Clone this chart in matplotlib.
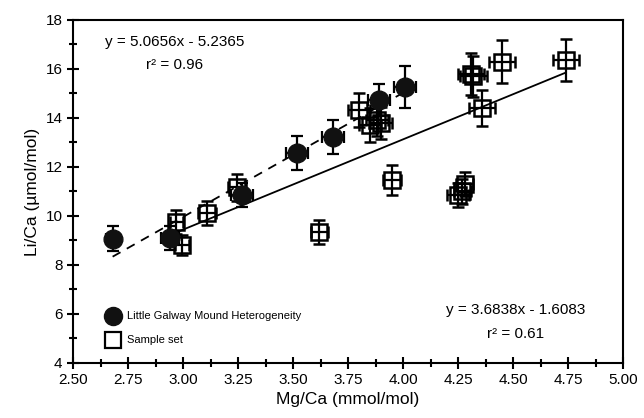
import matplotlib
matplotlib.use("Agg")
import matplotlib.pyplot as plt
import numpy as np
from matplotlib.ticker import MultipleLocator, FormatStrFormatter

plt.rcParams['font.family'] = ['Liberation Sans', 'DejaVu Sans']

# Little Galway Mound Heterogeneity (filled circles)
lgm_x = [2.68, 2.94, 3.27, 3.52, 3.68, 3.89, 4.01]
lgm_y = [9.08, 9.10, 10.86, 12.57, 13.22, 14.73, 15.27]
lgm_xerr = [0.03, 0.04, 0.05, 0.05, 0.05, 0.05, 0.05]
lgm_yerr = [0.50, 0.50, 0.50, 0.70, 0.70, 0.65, 0.85]

# Sample set (open squares)
ss_x = [2.97, 2.995, 3.11, 3.245, 3.62, 3.95, 4.28, 4.25, 4.27,
        3.80, 3.85, 3.88, 3.90, 4.31, 4.32, 4.45, 4.74, 4.36]
ss_y = [9.76, 8.82, 10.12, 11.18, 9.35, 11.47, 11.30, 10.86, 11.00,
        14.33, 13.70, 13.90, 13.80, 15.80, 15.70, 16.29, 16.37, 14.41]
ss_xerr = [0.03, 0.03, 0.04, 0.04, 0.04, 0.04, 0.04, 0.05, 0.04,
           0.05, 0.05, 0.05, 0.05, 0.06, 0.06, 0.06, 0.06, 0.06]
ss_yerr = [0.50, 0.40, 0.50, 0.55, 0.50, 0.60, 0.50, 0.50, 0.50,
           0.70, 0.70, 0.65, 0.65, 0.85, 0.85, 0.88, 0.85, 0.75]

# Regression lines
fit1_slope, fit1_icpt = 5.0656, -5.2365
fit2_slope, fit2_icpt = 3.6838, -1.6083

fig = plt.figure(figsize=(6.44, 4.18), dpi=100)
ax = fig.add_axes([0.1134, 0.1316, 0.854, 0.8206])

# regression lines
x1 = np.array([min(lgm_x), max(lgm_x)])
ax.plot(x1, fit1_slope * x1 + fit1_icpt, color='black', lw=1.3,
        linestyle=(0, (5, 4)), zorder=2)
x2 = np.array([min(ss_x), max(ss_x)])
ax.plot(x2, fit2_slope * x2 + fit2_icpt, color='black', lw=1.3, zorder=2)

# sample set squares
ax.errorbar(ss_x, ss_y, xerr=ss_xerr, yerr=ss_yerr, fmt='s', ms=12,
            mfc='none', mec='black', mew=1.8, ecolor='black', elinewidth=1.6,
            capsize=4, capthick=1.6, zorder=3)
# LGM circles
ax.errorbar(lgm_x, lgm_y, xerr=lgm_xerr, yerr=lgm_yerr, fmt='o', ms=13.5,
            mfc='#111111', mec='#111111', ecolor='black', elinewidth=1.6,
            capsize=4, capthick=1.6, zorder=4)

ax.set_xlim(2.5, 5.0)
ax.set_ylim(4, 18)
ax.xaxis.set_major_locator(MultipleLocator(0.25))
ax.xaxis.set_minor_locator(MultipleLocator(0.125))
ax.yaxis.set_major_locator(MultipleLocator(2))
ax.yaxis.set_minor_locator(MultipleLocator(1))
ax.xaxis.set_major_formatter(FormatStrFormatter('%.2f'))
ax.tick_params(which='both', direction='inout', width=1.5, labelsize=11)
ax.tick_params(which='major', length=8)
ax.tick_params(which='minor', length=6)
for s in ax.spines.values():
    s.set_linewidth(1.5)

ax.set_xlabel('Mg/Ca (mmol/mol)', fontsize=12.5, labelpad=3)
ax.set_ylabel('Li/Ca (\u00b5mol/mol)', fontsize=12.5, labelpad=4)

# equations
ax.text(2.96, 17.1, 'y = 5.0656x - 5.2365', fontsize=11, ha='center', va='center')
ax.text(2.96, 16.15, 'r\u00b2 = 0.96', fontsize=11, ha='center', va='center')
ax.text(4.51, 6.15, 'y = 3.6838x - 1.6083', fontsize=11, ha='center', va='center')
ax.text(4.51, 5.2, 'r\u00b2 = 0.61', fontsize=11, ha='center', va='center')

# legend
ax.plot([2.68], [5.93], 'o', ms=13, color='#111111', clip_on=False)
ax.text(2.745, 5.93, 'Little Galway Mound Heterogeneity', fontsize=8, va='center')
ax.plot([2.68], [4.95], 's', ms=12, mfc='none', mec='black', mew=1.6)
ax.text(2.745, 4.95, 'Sample set', fontsize=8, va='center')

fig.savefig('out.png', dpi=100)
